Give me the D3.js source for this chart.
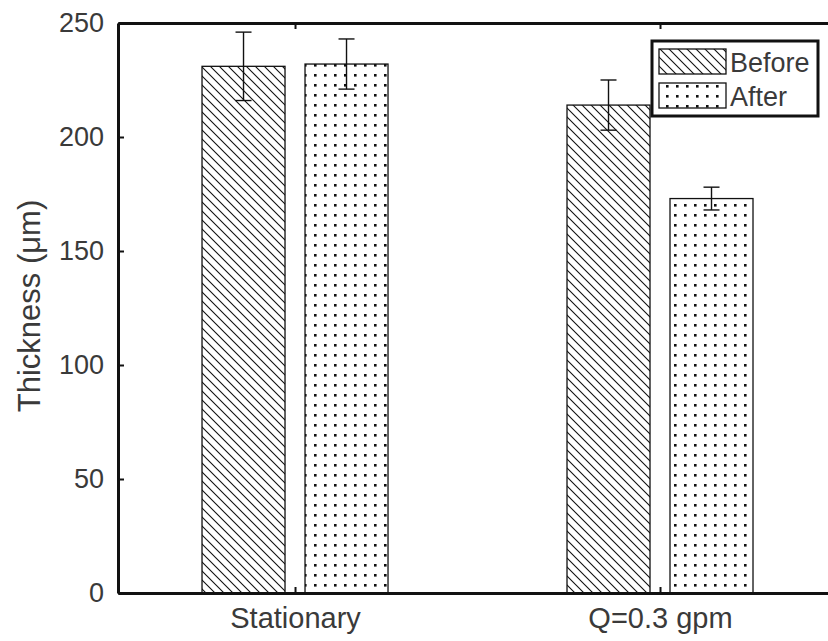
<!DOCTYPE html>
<html>
<head>
<meta charset="utf-8">
<script src="https://cdn.jsdelivr.net/npm/d3@7"></script>
<style>
  body { margin: 0; background: #fff; }
  svg { font-family: "Liberation Sans", Arial, sans-serif; }
</style>
</head>
<body>
<svg id="chart" width="828" height="641"></svg>
<script>
// data
var groups = ["Stationary", "Q=0.3 gpm"];
var series = ["Before", "After"];
var meanBefore = [231, 214];
var errBefore = [15, 11];
var meanAfter = [232, 173];
var errAfter = [11, 5];
var yTicks = [0, 50, 100, 150, 200, 250];

var svg = d3.select("#chart");
var margin = {left: 118, top: 23};
var bottom = 593;
var textCol = "#3a3a3a";

// x like matlab's bar(), the right side is clipped by the window
var x = d3.scaleLinear().domain([0.515, 2.5]).range([margin.left, 842.5]);
var y = d3.scaleLinear().domain([0, 250]).range([bottom, margin.top]);

var defs = svg.append("defs");
var hatch = defs.append("pattern").attr("id", "hatch")
  .attr("patternUnits", "userSpaceOnUse").attr("width", 9).attr("height", 9);
hatch.append("path").attr("d", "M-2,-2 L11,11 M-2,7 L2,11 M7,-2 L11,2")
  .attr("stroke", "#111").attr("stroke-width", 1.1);

var dots = defs.append("pattern").attr("id", "dots")
  .attr("patternUnits", "userSpaceOnUse").attr("width", 10).attr("height", 10);
dots.append("rect").attr("x", 4).attr("y", 4).attr("width", 2.6).attr("height", 2.6).attr("fill", "#111");

var barW = 83, gap = 20;
var bars = [];
groups.forEach(function (g, i) {
  bars.push({x: i + 1, off: -gap / 2 - barW, v: meanBefore[i], e: errBefore[i], fill: "url(#hatch)"});
  bars.push({x: i + 1, off: gap / 2, v: meanAfter[i], e: errAfter[i], fill: "url(#dots)"});
});

svg.selectAll("rect.bar").data(bars).enter().append("rect")
  .attr("class", "bar")
  .attr("x", function (d) { return x(d.x) + d.off; })
  .attr("y", function (d) { return y(d.v); })
  .attr("width", barW)
  .attr("height", function (d) { return y(0) - y(d.v); })
  .attr("fill", function (d) { return d.fill; })
  .attr("stroke", "#111").attr("stroke-width", 1.3);

// error bars
var eb = svg.selectAll("g.err").data(bars).enter().append("g").attr("class", "err")
  .attr("stroke", "#111").attr("stroke-width", 1.4);
eb.append("line")
  .attr("x1", function (d) { return x(d.x) + d.off + barW / 2; })
  .attr("x2", function (d) { return x(d.x) + d.off + barW / 2; })
  .attr("y1", function (d) { return y(d.v + d.e); })
  .attr("y2", function (d) { return y(d.v - d.e); });
[1, -1].forEach(function (s) {
  eb.append("line")
    .attr("x1", function (d) { return x(d.x) + d.off + barW / 2 - 8; })
    .attr("x2", function (d) { return x(d.x) + d.off + barW / 2 + 8; })
    .attr("y1", function (d) { return y(d.v + s * d.e); })
    .attr("y2", function (d) { return y(d.v + s * d.e); });
});

// axes
var yAxis = svg.append("g").attr("transform", "translate(" + margin.left + ",0)")
  .call(d3.axisLeft(y).tickValues(yTicks).tickSizeInner(-6).tickSizeOuter(0).tickPadding(14));
yAxis.select("path").attr("stroke", "#111").attr("stroke-width", 3);
yAxis.selectAll(".tick line").attr("stroke", "#111").attr("stroke-width", 2);
yAxis.selectAll("text").attr("font-size", 27).attr("fill", textCol)
  .attr("font-family", "Liberation Sans, Arial, sans-serif");

var xAxis = svg.append("g").attr("transform", "translate(0," + bottom + ")")
  .call(d3.axisBottom(x).tickValues([1, 2]).tickFormat(function (d) { return groups[d - 1]; })
    .tickSizeInner(-6).tickSizeOuter(0).tickPadding(14));
xAxis.select("path").attr("stroke", "#111").attr("stroke-width", 3);
xAxis.selectAll(".tick line").attr("stroke", "#111").attr("stroke-width", 2);
xAxis.selectAll("text").attr("font-size", 29).attr("fill", textCol)
  .attr("font-family", "Liberation Sans, Arial, sans-serif");

var topAxis = svg.append("g").attr("transform", "translate(0," + margin.top + ")")
  .call(d3.axisTop(x).tickValues([1, 2]).tickFormat("").tickSizeInner(-6).tickSizeOuter(0));
topAxis.select("path").attr("stroke", "#111").attr("stroke-width", 3);
topAxis.selectAll(".tick line").attr("stroke", "#111").attr("stroke-width", 2);

svg.append("text")
  .attr("transform", "translate(40," + (y(125) - 2) + ") rotate(-90)")
  .attr("text-anchor", "middle")
  .attr("font-size", 31).attr("fill", textCol)
  .text("Thickness (μm)");

// legend
var lg = svg.append("g").attr("transform", "translate(652,41)");
lg.append("rect").attr("width", 166).attr("height", 75)
  .attr("fill", "#fff").attr("stroke", "#111").attr("stroke-width", 3);
series.forEach(function (s, i) {
  lg.append("rect").attr("x", 7).attr("y", 8 + i * 34).attr("width", 67).attr("height", 25)
    .attr("fill", i === 0 ? "url(#hatch)" : "url(#dots)")
    .attr("stroke", "#111").attr("stroke-width", 1.3);
  lg.append("text").attr("x", 78).attr("y", 31 + i * 34)
    .attr("font-size", 27).attr("fill", textCol).text(s);
});
</script>
</body>
</html>
